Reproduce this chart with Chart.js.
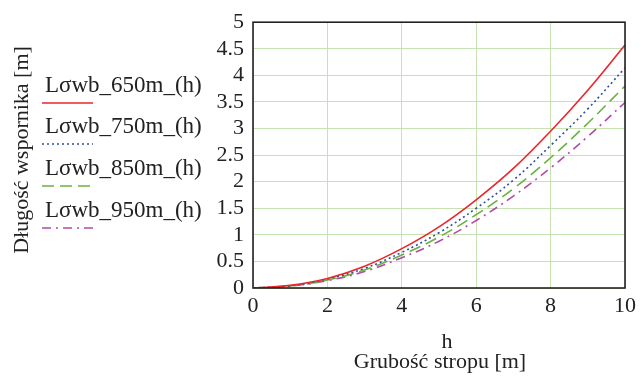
<!DOCTYPE html>
<html><head><meta charset="utf-8">
<script src="https://cdn.jsdelivr.net/npm/chart.js@4/dist/chart.umd.min.js"></script>
<style>html,body{margin:0;padding:0;background:#fff}#wrap{width:641px;height:376px}</style>
</head><body><div id="wrap"><canvas id="c" width="641" height="376"></canvas></div>
<script>
const hValues = [0,1,2,3,4,5,6,7,8,9,10];
const L650 = [0,0.05,0.18,0.41,0.74,1.15,1.66,2.25,2.95,3.72,4.57];
const L750 = [0,0.04,0.17,0.37,0.67,1.04,1.50,2.03,2.68,3.37,4.14];
const L850 = [0,0.04,0.15,0.34,0.62,0.96,1.38,1.87,2.45,3.10,3.80];
const L950 = [0,0.035,0.14,0.31,0.57,0.88,1.27,1.73,2.26,2.85,3.49];
const seriesLabels = ['Lσwb_650m_(h)','Lσwb_750m_(h)','Lσwb_850m_(h)','Lσwb_950m_(h)'];
const yTitle = 'Długość wspornika [m]';
const xTitle = ['h','Grubość stropu [m]'];
const FONT = '"Liberation Serif","DejaVu Serif",serif';

const styles = [
  {color:'#e8262b', dash:[]},
  {color:'#2f4f9e', dash:[2,3]},
  {color:'#6ab23f', dash:[12,6]},
  {color:'#b44aa6', dash:[9,5,2,5]}
];
const series = [L650,L750,L850,L950];
const datasets = series.map((arr,i)=>({
  label: seriesLabels[i],
  data: arr.map((v,k)=>({x:hValues[k], y:v})),
  borderColor: styles[i].color,
  borderDash: styles[i].dash,
  borderWidth: 1.6,
  pointRadius: 0,
  tension: 0.4,
  fill: false
}));

const decor = {
  id:'decor',
  afterDraw(chart){
    const ctx = chart.ctx, a = chart.chartArea;
    ctx.save();
    ctx.strokeStyle = '#222'; ctx.lineWidth = 1.6; ctx.setLineDash([]);
    ctx.strokeRect(a.left, a.top, a.right-a.left, a.bottom-a.top);
    ctx.fillStyle = '#222';
    ctx.font = '22px ' + FONT;
    ctx.textAlign = 'center'; ctx.textBaseline = 'middle';
    ctx.save(); ctx.translate(22, 150); ctx.rotate(-Math.PI/2);
    ctx.fillText(yTitle, 0, 0); ctx.restore();
    ctx.fillText(xTitle[0], 447, 342);
    ctx.fillText(xTitle[1], 440, 362);
    const ty = [86,127,169,211];
    chart.data.datasets.forEach((ds,i)=>{
      ctx.font = '23px ' + FONT;
      ctx.textAlign='left'; ctx.fillStyle='#222';
      ctx.fillText(ds.label, 45, ty[i]);
      ctx.strokeStyle = ds.borderColor; ctx.lineWidth = 1.6;
      ctx.setLineDash(ds.borderDash);
      ctx.beginPath(); ctx.moveTo(42, ty[i]+17); ctx.lineTo(93, ty[i]+17); ctx.stroke();
    });
    ctx.restore();
  }
};

new Chart(document.getElementById('c'), {
  type:'line',
  data:{datasets},
  options:{
    responsive:false, animation:false,
    layout:{padding:{left:0,right:13,top:9,bottom:0}},
    plugins:{legend:{display:false}, tooltip:{enabled:false}},
    scales:{
      x:{type:'linear', min:0, max:10,
        ticks:{stepSize:2, color:'#222', font:{family:FONT,size:22}, padding:5, autoSkip:false, maxRotation:0,
          callback:v=>String(Number(v))},
        grid:{color:'#c9e2b3', drawTicks:false, lineWidth:1},
        border:{display:false},
        afterFit(s){ s.height = 88; }
      },
      y:{min:0, max:5,
        ticks:{stepSize:0.5, color:'#222', font:{family:FONT,size:22}, padding:9, autoSkip:false,
          callback:v=>String(Number(v))},
        grid:{color:'#c9e2b3', drawTicks:false, lineWidth:1},
        border:{display:false},
        afterFit(s){ s.width = 253; }
      }
    }
  },
  plugins:[decor]
});
</script></body></html>
